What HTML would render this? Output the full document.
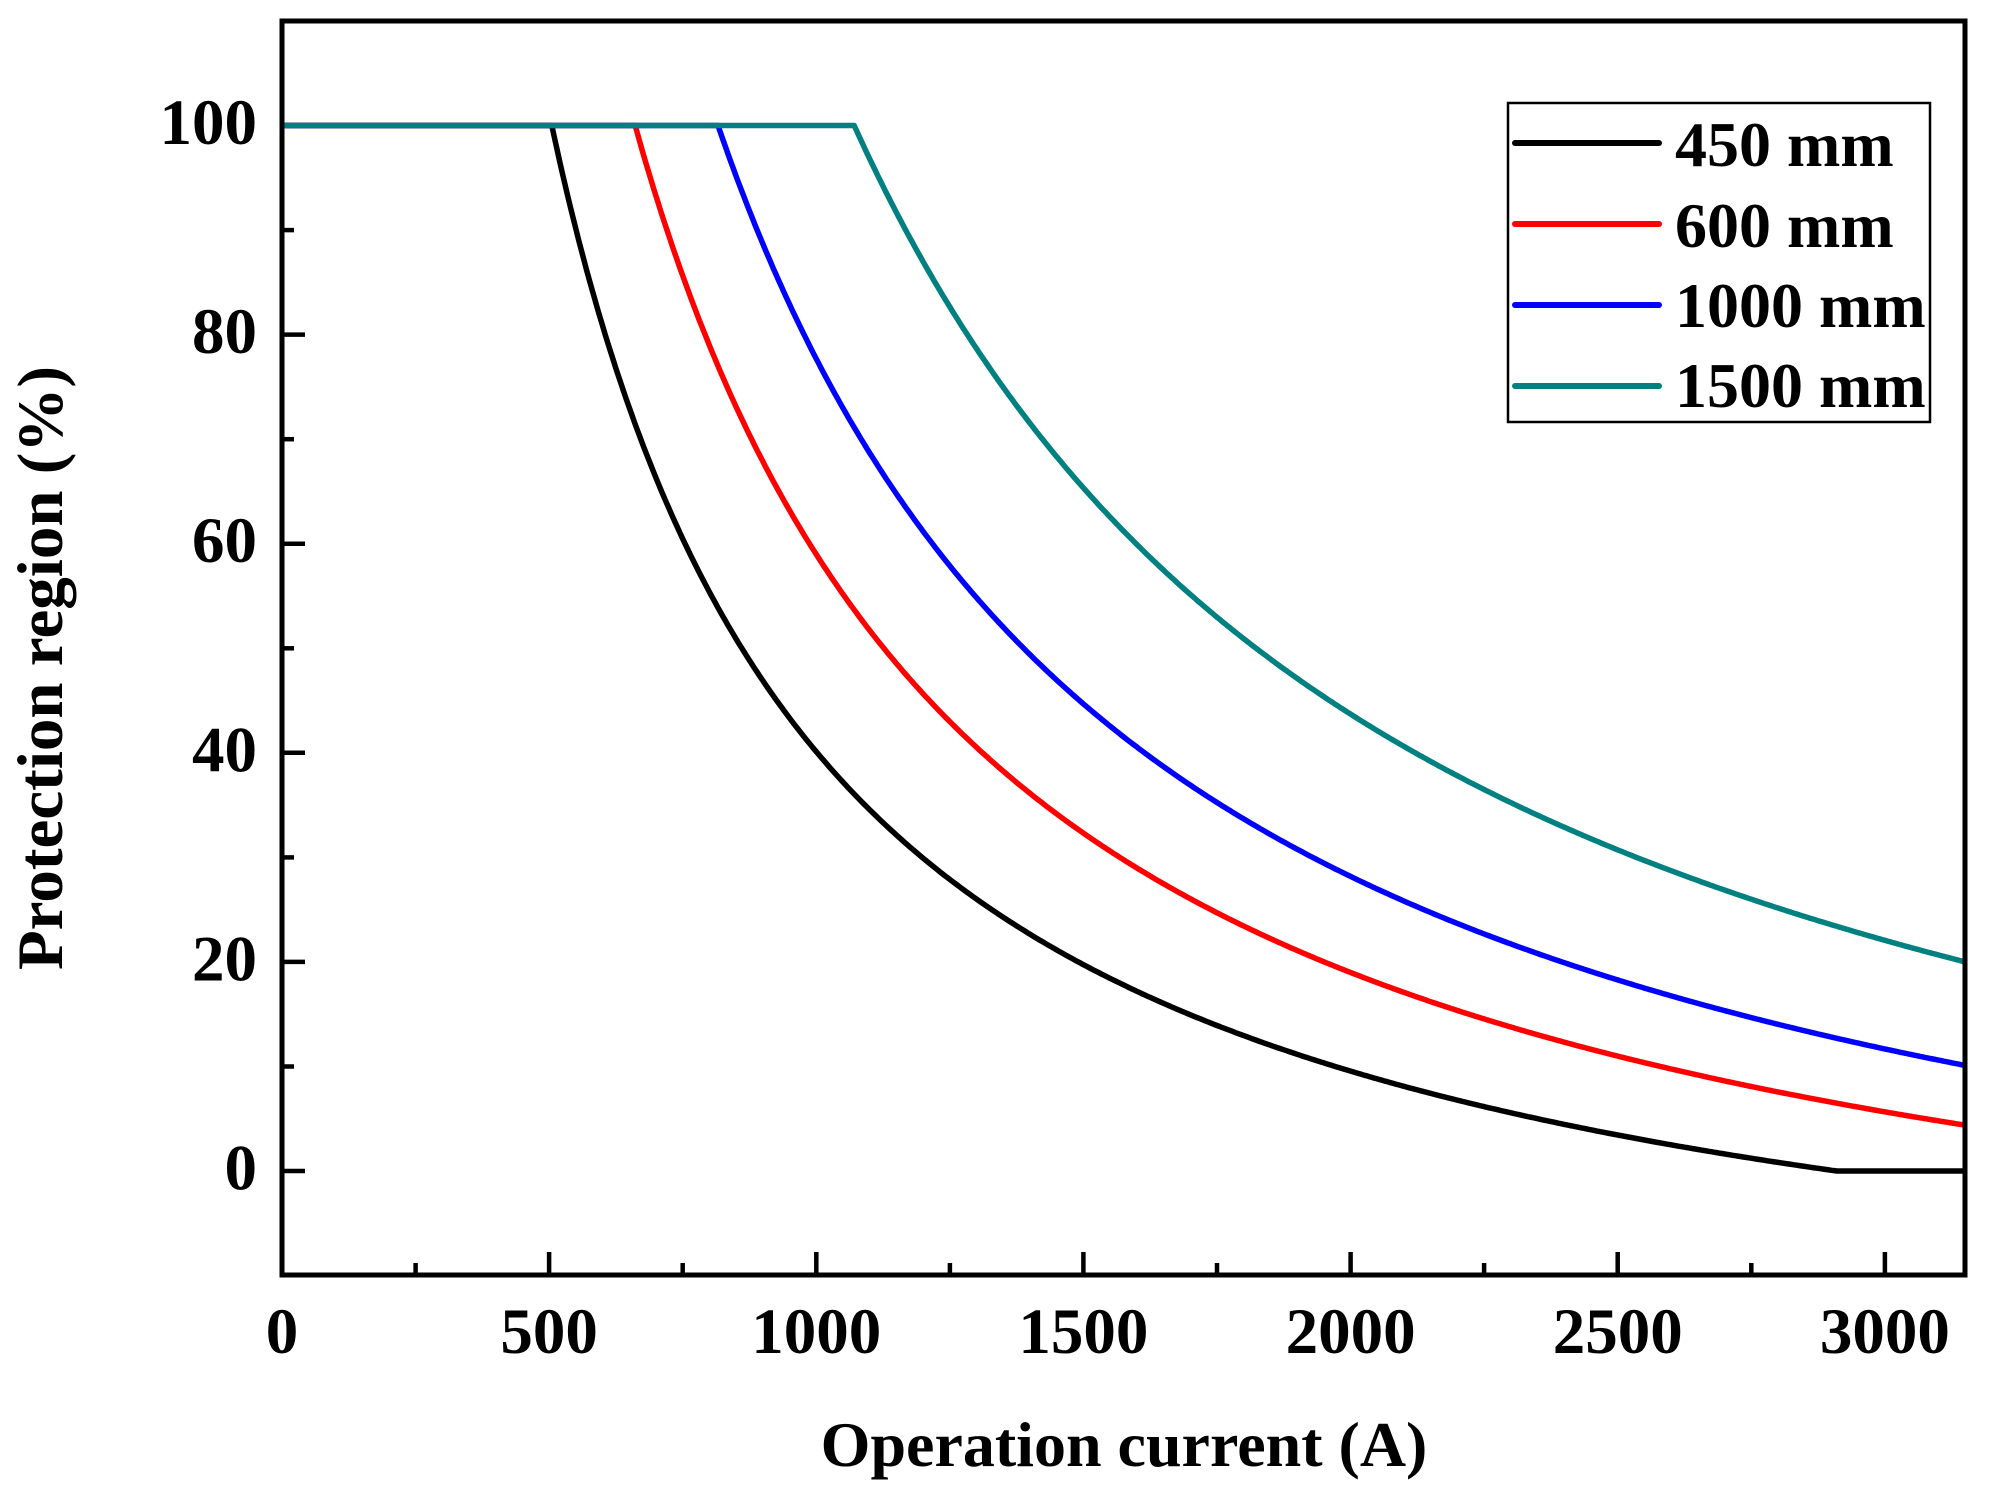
<!DOCTYPE html>
<html>
<head>
<meta charset="utf-8">
<style>
  html, body { margin: 0; padding: 0; background: #ffffff; }
  svg { display: block; }
  text { font-family: "Liberation Serif", "Times New Roman", serif; font-weight: bold; fill: #000; }
</style>
</head>
<body>
<svg width="1996" height="1498" viewBox="0 0 1996 1498" xmlns="http://www.w3.org/2000/svg">
  <rect x="0" y="0" width="1996" height="1498" fill="#ffffff"/>

  <!-- curves -->
  <g fill="none" stroke-width="5.5" stroke-linejoin="round" stroke-linecap="butt">
    <polyline id="c450" stroke="#000000" points="282,125.5 551.8,125.5 575.9,229.0 602.6,325.8 629.3,407.7 656.0,477.9 682.7,538.8 709.4,592.0 762.9,680.8 816.3,751.6 869.7,809.8 923.1,858.2 976.6,899.2 1030.0,934.2 1083.4,964.6 1136.9,991.3 1243.7,1035.6 1350.6,1071.2 1457.4,1100.1 1564.3,1124.4 1671.1,1144.9 1778.0,1162.4 1836.8,1171 1965,1171"/>
    <polyline id="c600" stroke="#ff0000" points="282,125.5 635.2,125.5 656.0,196.1 682.7,275.7 709.4,345.4 736.1,406.8 762.9,461.5 816.3,554.5 869.7,630.5 923.1,693.8 976.6,747.4 1030.0,793.4 1083.4,833.1 1136.9,868.0 1243.7,926.0 1350.6,972.5 1457.4,1010.5 1564.3,1042.2 1671.1,1069.0 1778.0,1092.0 1884.9,1111.8 1965,1125.1"/>
    <polyline id="c1000" stroke="#0000ff" points="282,125.5 718.0,125.5 736.1,176.2 762.9,243.8 789.6,304.4 816.3,358.9 869.7,452.9 923.1,531.4 976.6,597.8 1030.0,654.6 1083.4,703.9 1136.9,747.0 1243.7,819.0 1350.6,876.5 1457.4,923.5 1564.3,962.7 1671.1,995.9 1778.0,1024.3 1884.9,1049.0 1965,1065.4"/>
    <polyline id="c1500" stroke="#008080" points="282,125.5 854.2,125.5 869.7,158.8 896.4,212.6 923.1,261.7 976.6,348.7 1030.0,423.3 1083.4,488.0 1136.9,544.4 1243.7,638.7 1350.6,714.1 1457.4,775.8 1564.3,827.2 1671.1,870.7 1778.0,908.1 1884.9,940.4 1965,961.9"/>
  </g>

  <!-- axes frame -->
  <rect x="282" y="21" width="1683" height="1254" fill="none" stroke="#000" stroke-width="5"/>

  <!-- x ticks -->
  <g stroke="#000" stroke-width="4.5">
    <line x1="549.1" y1="1275" x2="549.1" y2="1252"/>
    <line x1="816.3" y1="1275" x2="816.3" y2="1252"/>
    <line x1="1083.4" y1="1275" x2="1083.4" y2="1252"/>
    <line x1="1350.6" y1="1275" x2="1350.6" y2="1252"/>
    <line x1="1617.7" y1="1275" x2="1617.7" y2="1252"/>
    <line x1="1884.9" y1="1275" x2="1884.9" y2="1252"/>
    <line x1="415.6" y1="1275" x2="415.6" y2="1263"/>
    <line x1="682.7" y1="1275" x2="682.7" y2="1263"/>
    <line x1="949.9" y1="1275" x2="949.9" y2="1263"/>
    <line x1="1217.0" y1="1275" x2="1217.0" y2="1263"/>
    <line x1="1484.1" y1="1275" x2="1484.1" y2="1263"/>
    <line x1="1751.3" y1="1275" x2="1751.3" y2="1263"/>
  </g>
  <!-- y ticks -->
  <g stroke="#000" stroke-width="4.5">
    <line x1="282" y1="1171" x2="305" y2="1171"/>
    <line x1="282" y1="961.9" x2="305" y2="961.9"/>
    <line x1="282" y1="752.8" x2="305" y2="752.8"/>
    <line x1="282" y1="543.7" x2="305" y2="543.7"/>
    <line x1="282" y1="334.6" x2="305" y2="334.6"/>
    <line x1="282" y1="1066.5" x2="294" y2="1066.5"/>
    <line x1="282" y1="857.4" x2="294" y2="857.4"/>
    <line x1="282" y1="648.3" x2="294" y2="648.3"/>
    <line x1="282" y1="439.2" x2="294" y2="439.2"/>
    <line x1="282" y1="230.1" x2="294" y2="230.1"/>
  </g>

  <!-- x tick labels -->
  <g font-size="65" text-anchor="middle">
    <text x="282" y="1353">0</text>
    <text x="549.1" y="1353">500</text>
    <text x="816.3" y="1353">1000</text>
    <text x="1083.4" y="1353">1500</text>
    <text x="1350.6" y="1353">2000</text>
    <text x="1617.7" y="1353">2500</text>
    <text x="1884.9" y="1353">3000</text>
  </g>

  <!-- y tick labels -->
  <g font-size="65" text-anchor="end">
    <text x="257" y="1189.5">0</text>
    <text x="257" y="980.4">20</text>
    <text x="257" y="771.3">40</text>
    <text x="257" y="562.2">60</text>
    <text x="257" y="353.1">80</text>
    <text x="257" y="144">100</text>
  </g>

  <!-- axis titles -->
  <text x="1124" y="1466" font-size="64" text-anchor="middle">Operation current (A)</text>
  <text transform="translate(62,668) rotate(-90)" font-size="65" text-anchor="middle">Protection region (%)</text>

  <!-- legend -->
  <rect x="1508" y="103" width="422" height="319" fill="#fff" stroke="#000" stroke-width="2.5"/>
  <g stroke-width="6" stroke-linecap="round">
    <line x1="1515" y1="143" x2="1659" y2="143" stroke="#000000"/>
    <line x1="1515" y1="224" x2="1659" y2="224" stroke="#ff0000"/>
    <line x1="1515" y1="305" x2="1659" y2="305" stroke="#0000ff"/>
    <line x1="1515" y1="386" x2="1659" y2="386" stroke="#008080"/>
  </g>
  <g font-size="64">
    <text x="1675" y="166">450 mm</text>
    <text x="1675" y="247">600 mm</text>
    <text x="1675" y="327">1000 mm</text>
    <text x="1675" y="407">1500 mm</text>
  </g>
</svg>
<script>
(function(){
  var sx = 1683/3150, sy = 10.455;
  function X(v){ return 282 + v*sx; }
  function Y(p){ return 1171 - p*sy; }
  var series = [
    {id:"c450",  K:61105,  c:21.0,  knee:505},
    {id:"c600",  K:79973,  c:21.0,  knee:661},
    {id:"c1000", K:99009,  c:21.33, knee:816},
    {id:"c1500", K:129817, c:21.21, knee:1071}
  ];
  series.forEach(function(s){
    var pts = [[X(0),Y(100)],[X(s.knee),Y(100)]];
    for (var v = Math.ceil(s.knee/5)*5 + 5; v <= 3150; v += 5) {
      var p = s.K/v - s.c;
      if (p > 100) p = 100;
      if (p < 0) p = 0;
      pts.push([X(v), Y(p)]);
    }
    var el = document.getElementById(s.id);
    if (el) el.setAttribute("points", pts.map(function(q){return q[0].toFixed(1)+","+q[1].toFixed(1);}).join(" "));
  });
})();
</script>
</body>
</html>
